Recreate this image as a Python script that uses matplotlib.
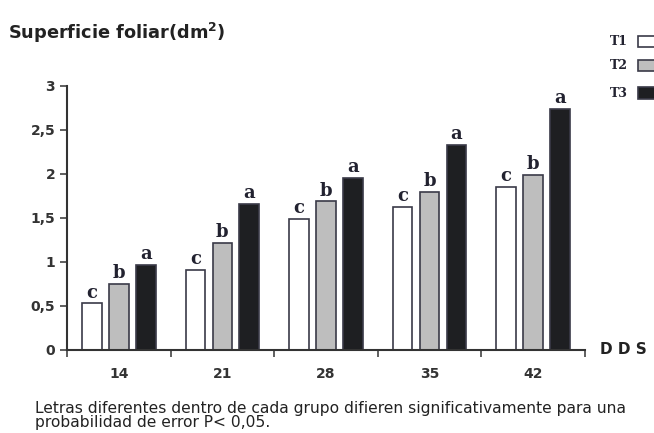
import numpy as np
import matplotlib.pyplot as plt
from matplotlib.patches import Rectangle

# datos
dias = ['14', '21', '28', '35', '42']
t1 = [0.53, 0.91, 1.49, 1.63, 1.85]
t2 = [0.75, 1.22, 1.69, 1.80, 1.99]
t3 = [0.97, 1.66, 1.96, 2.33, 2.74]
letras = ['c', 'b', 'a']
yticks = [0, 0.5, 1, 1.5, 2, 2.5, 3]
ylabels = ['0', '0,5', '1', '1,5', '2', '2,5', '3']

colores = ['white', '#bebebe', '#1e1f22']
borde = '#3a3a48'

fig = plt.figure(figsize=(6.54, 4.33), dpi=100)
ax = fig.add_axes([0.1024, 0.1917, 0.792, 0.6097])

x = np.arange(len(dias))
w = 0.19
off = 0.26
for i, serie in enumerate([t1, t2, t3]):
    pos = x + (i - 1) * off
    ax.bar(pos, serie, w, color=colores[i], edgecolor=borde, linewidth=1.2)
    for p, v in zip(pos, serie):
        ax.text(p, v + 0.02, letras[i], ha='center', va='bottom',
                family='DejaVu Serif', fontweight='bold', fontsize=13, color='#222230')

ax.set_xlim(-0.5, 4.5)
ax.set_ylim(0, 3)
ax.set_yticks(yticks)
ax.set_yticklabels(ylabels, fontsize=10, fontweight='bold', color='#333')
ax.set_xticks(np.arange(-0.5, 4.6, 1))
ax.set_xticklabels([])
ax.set_xticks(x, minor=True)
ax.set_xticklabels(dias, minor=True, fontsize=10, fontweight='bold', color='#333')
ax.tick_params(axis='x', which='minor', length=0, pad=12)
ax.tick_params(axis='x', which='major', length=5, width=1.2, color='#444')
ax.tick_params(axis='y', length=5, width=1.2, color='#444')
for s in ['top', 'right']:
    ax.spines[s].set_visible(False)
for s in ['left', 'bottom']:
    ax.spines[s].set_linewidth(1.5)
    ax.spines[s].set_color('#333')

fig.text(0.012, 0.925, 'Superficie foliar(dm$\\mathbf{^2}$)', fontsize=12.8,
         fontweight='bold', color='#222', va='center')
fig.text(0.917, 0.192, 'D D S', fontsize=11, fontweight='bold', color='#222', va='center')
fig.text(0.054, 0.04, 'Letras diferentes dentro de cada grupo difieren significativamente para una\n'
         'probabilidad de error P< 0,05.', fontsize=11.2, color='#222', va='center',
         linespacing=0.9)

# leyenda manual
for i, (lab, yy) in enumerate(zip(['T1', 'T2', 'T3'], [0.905, 0.848, 0.785])):
    fig.text(0.932, yy, lab, family='DejaVu Serif', fontweight='bold',
             fontsize=9, color='#222230', va='center')
    fig.patches.append(Rectangle((0.975, yy - 0.013), 0.035, 0.026, transform=fig.transFigure,
                                 facecolor=colores[i], edgecolor=borde, linewidth=1.2))

fig.savefig('out.png', dpi=100)
